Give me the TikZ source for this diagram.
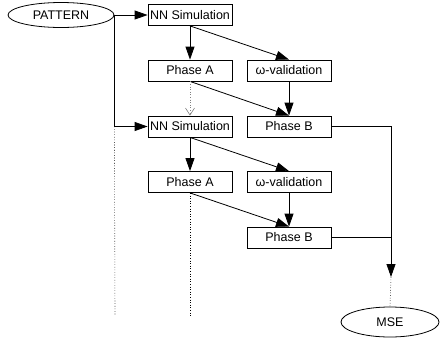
\documentclass[tikz,border=0pt]{standalone}
\usepackage{fontspec}
\setmainfont{Liberation Sans}
\usetikzlibrary{shapes, arrows.meta, positioning}
\tikzstyle{caja} = [draw, rectangle, line width=0.8pt, minimum width=84pt, minimum height=21pt, inner sep=0pt, font=\fontsize{12.5}{14}\selectfont]
\tikzstyle{elipse} = [draw, ellipse, line width=0.8pt, inner sep=0pt, font=\fontsize{12.5}{14}\selectfont]
\tikzstyle{flecha} = [line width=0.8pt, -{Triangle[length=13pt,width=9pt]}]
\tikzstyle{linea} = [line width=0.8pt]
\tikzstyle{punteado} = [line width=0.6pt, dotted]
\tikzstyle{retorno} = [line width=0.6pt, dotted, gray, -{Straight Barb[length=7pt,width=9pt]}]

\begin{document}
\begin{tikzpicture}[x=1pt, y=-1pt]
	\useasboundingbox (0,0) rectangle (440,341);
	% entrada y salida
	\node[elipse, minimum width=106pt, minimum height=25pt] (pattern) at (61,15) {PATTERN};
	\node[elipse, minimum width=98pt, minimum height=30pt] (mse) at (390,322) {MSE};
	% primer ciclo
	\node[caja] (nn1) at (190,15) {NN Simulation};
	\node[caja] (phaseA1) at (190,70.5) {Phase A};
	\node[caja] (omega1) at (289,70.5) {ω-validation};
	\node[caja] (phaseB1) at (289,126.5) {Phase B};
	% segundo ciclo
	\node[caja] (nn2) at (190,126.5) {NN Simulation};
	\node[caja] (phaseA2) at (190,182) {Phase A};
	\node[caja] (omega2) at (289,182) {ω-validation};
	\node[caja] (phaseB2) at (289,237.5) {Phase B};
	\coordinate (finP) at (115,316);
	\coordinate (bajada) at (391,277);
	% conexiones
	\draw[flecha] (pattern.east) -- (nn1.west);
	\draw[flecha] (pattern.east) |- (nn2.west);
	\draw[punteado] (pattern.east |- nn2.west) -- (finP);
	\draw[flecha] (nn1.south) -- (phaseA1.north);
	\draw[flecha] (nn1.south) -- (omega1.north);
	\draw[flecha] (phaseA1.south) -- (phaseB1.north);
	\draw[flecha] (omega1.south) -- (phaseB1.north);
	\draw[retorno] (phaseA1.south) -- (nn2.north);
	\draw[flecha] (nn2.south) -- (phaseA2.north);
	\draw[flecha] (nn2.south) -- (omega2.north);
	\draw[flecha] (phaseA2.south) -- (phaseB2.north);
	\draw[flecha] (omega2.south) -- (phaseB2.north);
	\draw[punteado] (phaseA2.south) -- (phaseA2.south |- finP);
	\draw[flecha] (phaseB1.east) -| (bajada);
	\draw[linea] (phaseB2.east) -- (phaseB2.east -| bajada);
	\draw[punteado] (bajada) -- (mse.north);
\end{tikzpicture}
\end{document}
